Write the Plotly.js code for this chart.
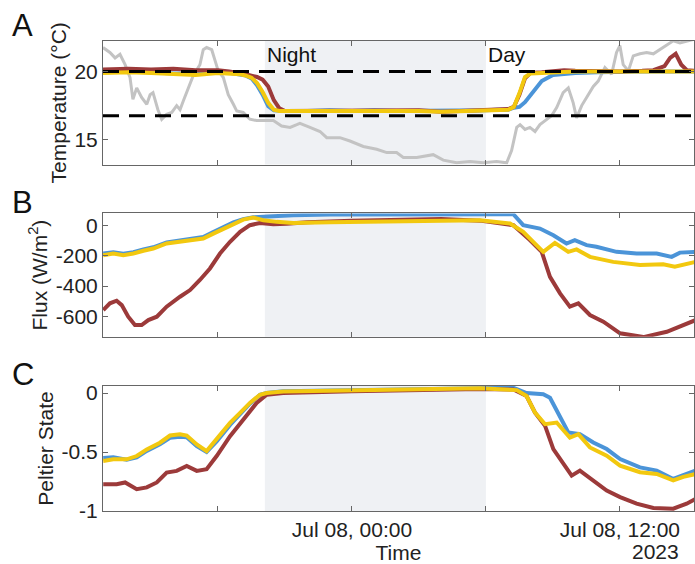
<!DOCTYPE html>
<html>
<head>
<meta charset="utf-8">
<script src="https://cdn.plot.ly/plotly-3.0.1.min.js"></script>
<style>html,body{margin:0;padding:0;background:#fff;}#chart{width:695px;height:564px;}</style>
</head>
<body>
<div id="chart"></div>
<script>
// ---------- DATA (hours counted from 2023-07-07 00:00) ----------
const xRangeHours = [12.85, 39.32];
const nightHours = [20.1, 30.0];
const setpoints = [20, 16.75];
const xTickHours = [18, 24, 30, 36];
const xTickLabels = ['', 'Jul 08, 00:00', '', 'Jul 08, 12:00'];
const yearLabel = '2023';

// Panel A: outdoor (grey) temperature
const greyTHours = [12.85,13.16,13.39,13.61,13.84,14.06,14.19,14.36,14.58,14.81,14.96,15.09,15.31,15.48,15.70,15.93,16.15,16.30,16.45,16.67,16.89,17.19,17.34,17.49,17.72,17.87,18.01,18.24,18.46,18.69,18.84,19.13,19.43,19.73,20.03,20.48,20.85,21.23,21.53,21.67,22.12,22.57,22.87,23.46,23.91,24.51,25.11,25.56,26.00,26.30,26.90,27.64,28.09,28.69,29.29,29.88,30.48,30.93,31.15,31.38,31.53,31.75,31.97,32.20,32.42,32.72,32.94,33.17,33.46,33.69,33.91,34.06,34.29,34.51,34.81,35.03,35.33,35.63,35.85,36.00,36.15,36.38,36.60,36.90,37.20,37.50,37.80,38.10,38.39,38.69,38.99,39.21,39.40];
const greyT = [21.76,21.4,21.0,21.27,20.5,19.56,17.96,18.8,18.1,17.6,18.3,18.45,17.2,16.5,16.86,17.0,17.5,17.2,17.85,18.8,19.7,20.5,21.6,21.76,21.6,20.8,20.05,19.56,18.3,17.6,17.1,17.0,16.5,16.4,16.4,16.4,16.0,15.9,16.1,16.2,15.9,15.6,15.15,15.15,14.9,14.5,14.3,14.05,14.05,13.7,13.7,13.9,13.5,13.3,13.4,13.3,13.4,13.3,14.2,15.9,16.1,15.75,15.9,15.6,16.1,16.5,16.75,17.35,18.45,18.8,17.7,16.6,17.5,18.1,18.9,19.3,20.3,19.8,21.4,21.9,20.5,20.05,21.15,21.3,21.4,21.3,21.6,21.9,22.25,22.1,22.25,22.35,22.4];

// Panel A: chamber temperatures
const tempHours = [12.85,14,15,16,17,18,18.5,19,19.25,19.5,19.75,20,20.25,20.5,20.75,21,22,23,24,25,26,27,28,29,30,30.5,31,31.25,31.5,31.75,32,32.5,33,33.5,34,35,36,37,37.5,38,38.25,38.5,38.75,39,39.4];
const tempRed    = [20.15,20.2,20.15,20.2,20.1,20.1,20.0,19.9,19.8,19.7,19.6,19.4,18.9,17.9,17.3,17.1,17.1,17.15,17.1,17.15,17.1,17.15,17.05,17.1,17.15,17.2,17.25,17.4,18.3,19.5,19.9,19.95,20.0,20.1,20.05,20.0,20.0,20.05,20.1,20.4,21.0,21.3,20.5,20.1,20.05];
const tempBlue   = [19.95,20.0,19.95,19.85,19.85,19.95,19.9,19.8,19.7,19.5,19.0,18.3,17.45,17.15,17.1,17.1,17.1,17.15,17.1,17.15,17.1,17.1,17.1,17.1,17.15,17.2,17.2,17.35,17.4,17.75,18.3,19.3,19.75,19.85,19.9,19.95,20.0,20.0,20.0,20.0,20.0,20.0,20.0,20.0,20.0];
const tempYellow = [19.9,19.95,19.9,19.8,19.75,19.9,19.85,19.8,19.7,19.55,19.15,18.5,17.7,17.2,17.1,17.1,17.1,17.15,17.1,17.15,17.1,17.1,17.05,17.1,17.1,17.15,17.2,17.4,18.4,19.6,19.85,19.9,19.95,20.0,20.0,20.0,20.0,20.0,20.0,20.0,20.0,20.05,20.0,20.0,20.0];

// Panel B: flux (W/m2)
const fluxRedHours = [12.86,13.16,13.46,13.69,13.98,14.28,14.58,14.88,15.26,15.70,16.30,16.75,17.19,17.64,18.09,18.54,18.99,19.43,19.88,20.48,21.08,22,24,26,28,29.73,31.23,31.97,32.50,32.87,33.32,33.76,34.14,34.66,35.26,36.01,37.05,38.10,38.84,39.40];
const fluxRed = [-557,-513,-496,-525,-601,-656,-656,-623,-601,-535,-470,-426,-360,-284,-186,-109,-44,0,15,7,10,20,30,35,40,30,0,-98,-175,-339,-448,-535,-513,-590,-634,-710,-735,-700,-656,-623];
const fluxYellowHours = [12.86,13.31,13.76,14.21,14.66,15.10,15.70,16.30,16.89,17.34,17.79,18.24,18.69,19.13,19.58,20.03,20.63,21.37,23,25,27,29,29.73,31.08,31.67,32.12,32.57,33.09,33.69,34.06,34.66,35.70,36.90,37.94,38.46,39.40];
const fluxYellow = [-197,-186,-197,-186,-168,-153,-120,-109,-94,-87,-55,-22,11,37,50,33,22,15,20,25,25,30,33,11,-44,-109,-175,-116,-175,-159,-208,-241,-262,-256,-273,-241];
const fluxBlueHours = [12.86,13.31,13.76,14.21,14.66,15.10,15.70,16.30,16.89,17.34,17.79,18.24,18.69,19.13,19.58,20.03,20.63,21.37,23,25,27,29,29.73,31.23,31.67,32.42,33.02,33.61,33.98,34.51,34.95,35.85,36.75,37.65,38.32,38.69,39.40];
const fluxBlue = [-185,-178,-188,-178,-160,-145,-113,-100,-85,-78,-45,-12,18,40,52,55,59,66,70,72,72,74,74,72,0,-22,-66,-120,-98,-131,-142,-175,-186,-186,-208,-180,-175];

// Panel C: Peltier state
const peltYellowHours = [12.86,13.31,13.91,14.36,14.81,15.40,15.85,16.30,16.60,17.05,17.49,17.94,18.54,18.99,19.43,19.88,20.18,20.92,23.91,26,28,29.73,31.38,31.82,32.20,32.65,33.17,33.76,34.14,34.66,35.41,36.01,36.90,37.65,38.39,38.84,39.40];
const peltYellow = [-0.576,-0.562,-0.562,-0.534,-0.478,-0.421,-0.36,-0.35,-0.36,-0.436,-0.492,-0.393,-0.253,-0.168,-0.084,-0.014,0.0,0.013,0.02,0.025,0.03,0.04,0.025,-0.025,-0.166,-0.264,-0.25,-0.377,-0.348,-0.461,-0.531,-0.615,-0.671,-0.686,-0.741,-0.71,-0.686];
const peltBlueHours = [12.86,13.31,13.91,14.36,14.81,15.40,15.85,16.30,16.60,17.05,17.49,17.94,18.54,18.99,19.43,19.88,20.18,20.92,23.91,26,28,29.73,31.23,31.82,32.57,32.87,33.32,33.69,34.21,34.81,35.41,36.01,36.90,37.65,38.39,38.84,39.40];
const peltBlue = [-0.55,-0.545,-0.565,-0.545,-0.49,-0.435,-0.38,-0.37,-0.375,-0.45,-0.5,-0.41,-0.27,-0.18,-0.09,-0.015,0.0,0.015,0.025,0.03,0.035,0.045,0.045,0.0,-0.01,-0.04,-0.194,-0.334,-0.348,-0.419,-0.475,-0.56,-0.63,-0.657,-0.728,-0.70,-0.657];
const peltRedHours = [12.86,13.46,13.84,14.36,14.81,15.26,15.70,16.15,16.60,17.05,17.49,17.94,18.54,19.13,19.73,20.18,20.92,24,27,29.73,31.23,31.82,32.20,32.65,33.02,33.46,33.84,34.21,34.81,35.41,36.01,36.75,37.50,38.39,38.99,39.40];
const peltRed = [-0.773,-0.773,-0.758,-0.815,-0.80,-0.758,-0.674,-0.66,-0.618,-0.66,-0.646,-0.534,-0.366,-0.225,-0.084,-0.014,0.0,0.015,0.025,0.035,0.03,-0.025,-0.166,-0.278,-0.475,-0.60,-0.70,-0.657,-0.741,-0.826,-0.882,-0.938,-0.975,-0.98,-0.938,-0.896];

// ---------- HELPERS ----------
function hd(h){
  const d = new Date(Date.UTC(2023,6,7,0,0,0) + Math.round(h*3600000));
  return d.toISOString().slice(0,19).replace('T',' ');
}
const H = a => a.map(hd);

const C = {red:'#9c3a3a', blue:'#4b94d8', yellow:'#f2c80f', grey:'#c3c3c3'};
const FONT = 'Liberation Sans, Arial, Helvetica, sans-serif';
const FS = 21;
const xr = xRangeHours.map(hd);

function line(xh, y, color, width, xa, ya){
  return {type:'scatter', mode:'lines', x:H(xh), y:y, xaxis:xa, yaxis:ya,
    line:{color:color, width:width}, hoverinfo:'skip', showlegend:false};
}

const traces = [
  line(greyTHours, greyT, C.grey, 3, 'x', 'y'),
  line(tempHours, tempBlue, C.blue, 4, 'x', 'y'),
  line(tempHours, tempRed, C.red, 4, 'x', 'y'),
  line(tempHours, tempYellow, C.yellow, 4, 'x', 'y'),
  line(fluxBlueHours, fluxBlue, C.blue, 4, 'x2', 'y2'),
  line(fluxRedHours, fluxRed, C.red, 4, 'x2', 'y2'),
  line(fluxYellowHours, fluxYellow, C.yellow, 4, 'x2', 'y2'),
  line(peltBlueHours, peltBlue, C.blue, 4, 'x3', 'y3'),
  line(peltRedHours, peltRed, C.red, 4, 'x3', 'y3'),
  line(peltYellowHours, peltYellow, C.yellow, 4, 'x3', 'y3'),
];
setpoints.forEach(s => {
  traces.push({type:'scatter', mode:'lines', x:xr, y:[s,s], xaxis:'x', yaxis:'y',
    line:{color:'#000', width:3, dash:'16px,10px'}, hoverinfo:'skip', showlegend:false});
});

const axCol = '#666';
function xax(showLabels){
  return {type:'date', range:xr, tickmode:'array', tickvals:H(xTickHours),
    ticktext: showLabels ? xTickLabels : xTickLabels.map(()=>''),
    ticks:'inside', ticklen:5, tickcolor:axCol, showline:true, linecolor:axCol, linewidth:1,
    mirror:'ticks', showgrid:false, zeroline:false,
    tickfont:{family:FONT, size:FS, color:'#222'}};
}
function yax(domain, range, vals, title){
  return {domain:domain, range:range, tickmode:'array', tickvals:vals, ticktext:vals.map(v=>String(v)),
    ticks:'inside', ticklen:5, tickcolor:axCol, showline:true, linecolor:axCol, linewidth:1,
    mirror:'ticks', showgrid:false, zeroline:false,
    tickfont:{family:FONT, size:FS, color:'#222'},
    title:{text:title, font:{family:FONT, size:FS, color:'#222'}, standoff:2}};
}

const xa3 = xax(true);
xa3.title = {text:'Time', font:{family:FONT, size:FS, color:'#222'}, standoff:2};

const layout = {
  width:695, height:564,
  margin:{l:103, r:1, t:41, b:53},
  paper_bgcolor:'#fff', plot_bgcolor:'#fff',
  font:{family:FONT, color:'#222'},
  showlegend:false,
  xaxis: Object.assign(xax(false), {anchor:'y'}),
  xaxis2: Object.assign(xax(false), {anchor:'y2', matches:'x'}),
  xaxis3: Object.assign(xa3, {anchor:'y3', matches:'x'}),
  yaxis: yax([0.737,1], [13.17,22.24], [15,20], 'Temperature (°C)'),
  yaxis2: yax([0.371,0.633], [-732,77], [-600,-400,-200,0], 'Flux (W/m<sup>2</sup>)'),
  yaxis3: yax([0,0.266], [-1,0.06], [-1,-0.5,0], 'Peltier State'),
  shapes: ['y','y2','y3'].map((ya,i) => ({type:'rect', layer:'below',
    xref: i===0?'x':('x'+(i+1)), yref: ya+' domain',
    x0:hd(nightHours[0]), x1:hd(nightHours[1]), y0:0, y1:1,
    fillcolor:'#eff1f4', line:{width:0}})),
  annotations: [
    {text:'A', xref:'paper', yref:'paper', x:-0.158, y:1.075, xanchor:'left', yanchor:'top', showarrow:false, font:{family:FONT, size:31, color:'#111'}},
    {text:'B', xref:'paper', yref:'paper', x:-0.158, y:0.697, xanchor:'left', yanchor:'top', showarrow:false, font:{family:FONT, size:31, color:'#111'}},
    {text:'C', xref:'paper', yref:'paper', x:-0.158, y:0.331, xanchor:'left', yanchor:'top', showarrow:false, font:{family:FONT, size:31, color:'#111'}},
    {text:'Night', xref:'x', yref:'y domain', x:hd(nightHours[0]), y:1, xanchor:'left', yanchor:'top', showarrow:false, font:{family:FONT, size:FS, color:'#111'}},
    {text:'Day', xref:'x', yref:'y domain', x:hd(nightHours[1]), y:1, xanchor:'left', yanchor:'top', showarrow:false, font:{family:FONT, size:FS, color:'#111'}},
    {text:yearLabel, xref:'x3', yref:'paper', x:hd(xTickHours[3]), xshift:61, y:-0.087, xanchor:'right', yanchor:'middle', showarrow:false, font:{family:FONT, size:FS, color:'#222'}}
  ]
};

Plotly.newPlot('chart', traces, layout, {staticPlot:true, displayModeBar:false});
</script>
</body>
</html>
